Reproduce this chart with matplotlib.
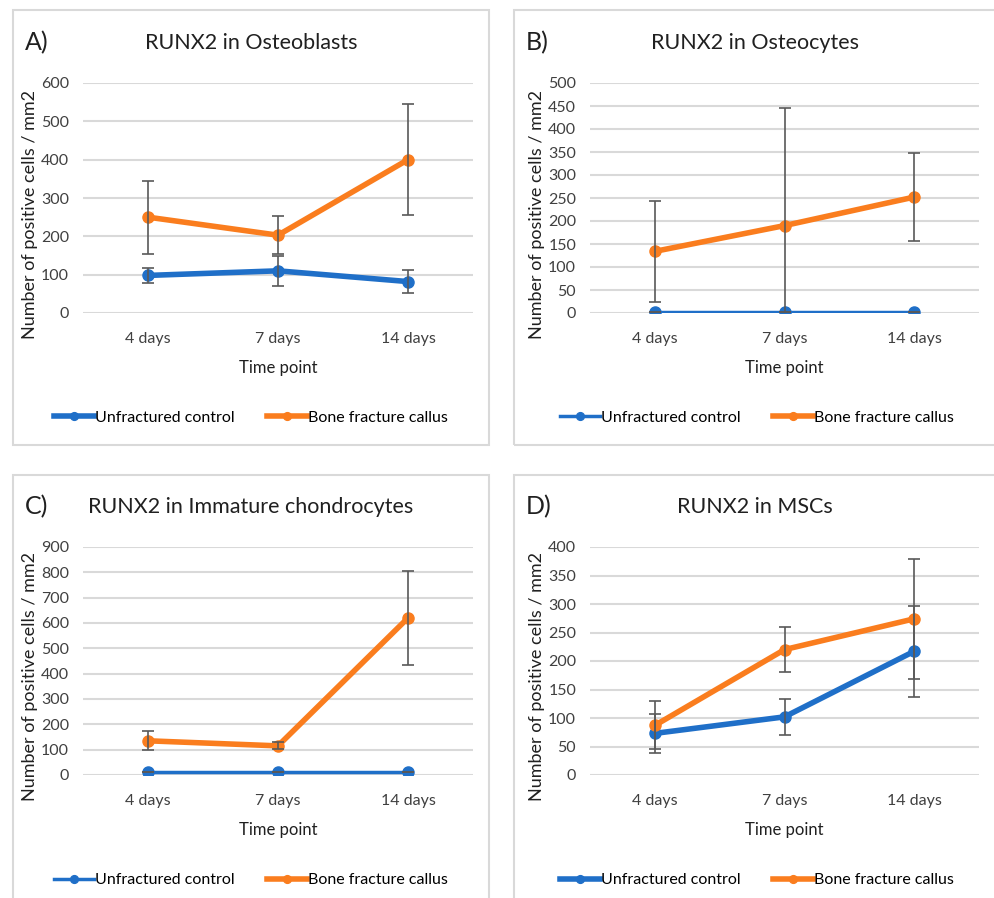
import numpy as np
import matplotlib.pyplot as plt
from matplotlib.patches import Rectangle

plt.rcParams['font.family'] = ['Lato', 'DejaVu Sans']

## data
days = ['4 days', '7 days', '14 days']

# A) osteoblasts
ob_ctrl = [98, 110, 82]
ob_ctrl_err = [19, 40, 30]
ob_frac = [250, 203, 400]
ob_frac_err = [95, 50, 145]

# B) osteocytes
oc_ctrl = [2, 2, 2]
oc_ctrl_err = [0, 0, 0]
oc_frac = [134, 190, 252]
oc_frac_err = [110, 255, 96]

# C) immature chondrocytes
ch_ctrl = [10, 10, 10]
ch_ctrl_err = [0, 0, 0]
ch_frac = [135, 115, 620]
ch_frac_err = [37, 14, 185]

# D) MSCs
msc_ctrl = [73, 102, 217]
msc_ctrl_err = [34, 31, 80]
msc_frac = [87, 220, 274]
msc_frac_err = [42, 39, 105]

panels = [
    ('A)', 'RUNX2 in Osteoblasts', ob_ctrl, ob_ctrl_err, ob_frac, ob_frac_err, 600, 100, 4),
    ('B)', 'RUNX2 in Osteocytes', oc_ctrl, oc_ctrl_err, oc_frac, oc_frac_err, 500, 50, 2.5),
    ('C)', 'RUNX2 in Immature chondrocytes', ch_ctrl, ch_ctrl_err, ch_frac, ch_frac_err, 900, 100, 2.5),
    ('D)', 'RUNX2 in MSCs', msc_ctrl, msc_ctrl_err, msc_frac, msc_frac_err, 400, 50, 4),
]

blue = '#1F6FC8'
orange = '#FA7D1E'
W, H = 994, 898

fig = plt.figure(figsize=(W/100, H/100), dpi=100)

# panel frames (pixels: x0, y0, x1, y1)
frames = [(13, 10, 489, 445), (514, 10, 1000, 445),
          (13, 475, 489, 905), (514, 475, 1000, 905)]
# plot areas (pixels: left, top, right, bottom)
areas = [(83, 83, 473, 313), (590, 83, 979, 313),
         (83, 547, 473, 775), (590, 547, 979, 775)]

for k, (lab, title, ctrl, ctrl_err, frac, frac_err, ymax, step, lw_c) in enumerate(panels):
    x0, y0, x1, y1 = frames[k]
    fig.patches.append(Rectangle((x0/W, 1-y1/H), (x1-x0)/W, (y1-y0)/H,
                                 transform=fig.transFigure, fill=False,
                                 edgecolor='#d9d9d9', lw=1.5))
    l, t, r, b = areas[k]
    ax = fig.add_axes([l/W, 1-b/H, (r-l)/W, (b-t)/H])
    x = np.arange(len(days))

    ax.plot(x, ctrl, '-o', color=blue, lw=lw_c, ms=8, zorder=3,
            label='Unfractured control')
    ax.plot(x, frac, '-o', color=orange, lw=4, ms=8, zorder=3,
            label='Bone fracture callus')
    ax.errorbar(x, ctrl, yerr=ctrl_err, fmt='none', ecolor='#595959',
                elinewidth=1.2, capsize=4, capthick=1.2, zorder=4)
    ax.errorbar(x, frac, yerr=frac_err, fmt='none', ecolor='#595959',
                elinewidth=1.2, capsize=4, capthick=1.2, zorder=4)

    ax.set_xlim(-0.5, 2.5)
    ax.set_ylim(0, ymax)
    ax.set_yticks(np.arange(0, ymax+1, step))
    ax.set_xticks(x)
    ax.set_xticklabels(days)
    ax.grid(axis='y', color='#d9d9d9', lw=1.5)
    ax.set_axisbelow(True)
    for s in ax.spines.values():
        s.set_visible(False)
    ax.tick_params(length=0, labelsize=11.5, labelcolor='#404040')
    ax.tick_params(axis='x', pad=14)
    ax.tick_params(axis='y', pad=10)
    ax.set_ylabel('Number of positive cells / mm2', fontsize=13, color='#202020')
    ax.yaxis.set_label_coords(-0.115, 0.43)
    ax.set_xlabel('Time point', fontsize=12, color='#202020')
    ax.xaxis.set_label_coords(0.5, -0.205)

    cx = (x0 + min(x1, 994)) / 2 if k % 2 == 0 else 755
    ty = 43 if k < 2 else 507
    fig.text(cx/W, 1-ty/H, title, ha='center', va='center', fontsize=15.5, color='#202020')
    fig.text((x0+12)/W, 1-ty/H, lab, ha='left', va='center', fontsize=18, color='#202020')

    ly = 418 if k < 2 else 880
    lx = 251 if k % 2 == 0 else 757
    ax.legend(loc='center', bbox_to_anchor=(lx/W, 1-ly/H), bbox_transform=fig.transFigure,
              ncol=2, frameon=False, fontsize=11.5, handlelength=2.5,
              columnspacing=2.0, handletextpad=0.1, markerscale=0.7)

fig.savefig('out.png', dpi=100)
